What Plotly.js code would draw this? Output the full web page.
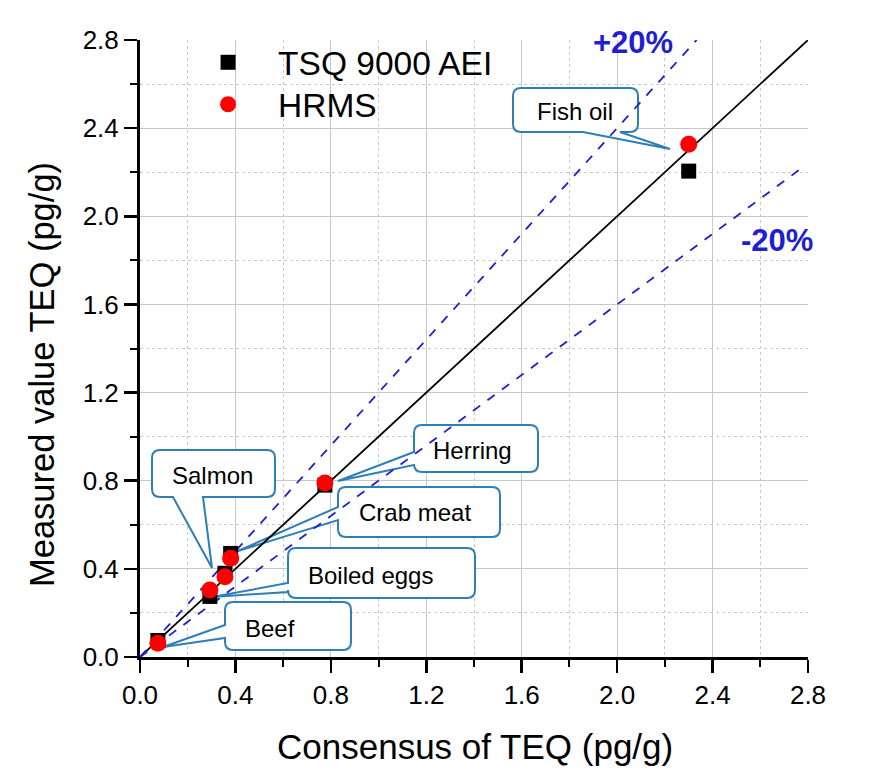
<!DOCTYPE html>
<html>
<head>
<meta charset="utf-8">
<script src="https://cdn.plot.ly/plotly-3.0.1.min.js"></script>
<style>html,body{margin:0;padding:0;background:#fff;}#chart{width:871px;height:780px;}</style>
</head>
<body>
<div id="chart"></div>
<script>
// ---- data ----
var samples   = ["Beef", "Salmon", "Boiled eggs", "Crab meat", "Herring", "Fish oil"];
var consensus = [0.075, 0.293, 0.356, 0.38, 0.775, 2.30];
var tsq       = [0.075, 0.275, 0.38, 0.47, 0.78, 2.205];
var hrms      = [0.062, 0.304, 0.364, 0.448, 0.79, 2.327];
var seriesNames = ["TSQ 9000 AEI", "HRMS"];
var unityX = [0, 2.8],   unityY = [0, 2.8];
var plus20X = [0, 2.333], plus20Y = [0, 2.8];
var minus20X = [0, 2.78], minus20Y = [0, 2.224];
var tickVals = [0, 0.4, 0.8, 1.2, 1.6, 2.0, 2.4, 2.8];

// ---- layout geometry (pixels) ----
var W = 871, H = 780, ML = 140, MR = 63, MT = 40, MB = 123;
var PW = W - ML - MR, PH = H - MT - MB;
function px2x(px){ return (px - ML) / PW * 2.8; }
function py2y(py){ return (MT + PH - py) / PH * 2.8; }
function pxp(px){ return (px - ML) / PW; }
function pyp(py){ return (MT + PH - py) / PH; }

// callout boxes: box [x0,y0,x1,y1] px, tail side, attach coords, tip px, text centre
var callouts = [
  {t:"Fish oil",    box:[513,88,638,132],  side:"bottom", a:583, b:620, tip:[670,149], c:[575,111]},
  {t:"Herring",     box:[414,425,538,472], side:"left",   a:452, b:465, tip:[338,481], c:[472,450]},
  {t:"Crab meat",   box:[338,487,500,537], side:"left",   a:507, b:520, tip:[238,551], c:[415,512]},
  {t:"Boiled eggs", box:[288,548,475,598], side:"left",   a:583, b:592, tip:[212,597], c:[370,575]},
  {t:"Salmon",      box:[152,450,275,497], side:"bottom", a:173, b:203, tip:[212,568], c:[212,475]},
  {t:"Beef",        box:[225,602,351,650], side:"left",   a:625, b:638, tip:[163,647], c:[270,628]}
];

function P(px,py){ return px2x(px).toFixed(5) + "," + py2y(py).toFixed(5); }
function calloutPath(o){
  var x0=o.box[0], y0=o.box[1], x1=o.box[2], y1=o.box[3], r=8;
  var s = "M" + P(x0+r,y0) + " L" + P(x1-r,y0) + " Q" + P(x1,y0) + " " + P(x1,y0+r) +
          " L" + P(x1,y1-r) + " Q" + P(x1,y1) + " " + P(x1-r,y1);
  if (o.side === "bottom") s += " L" + P(o.b,y1) + " L" + P(o.tip[0],o.tip[1]) + " L" + P(o.a,y1);
  s += " L" + P(x0+r,y1) + " Q" + P(x0,y1) + " " + P(x0,y1-r);
  if (o.side === "left") s += " L" + P(x0,o.b) + " L" + P(o.tip[0],o.tip[1]) + " L" + P(x0,o.a);
  s += " L" + P(x0,y0+r) + " Q" + P(x0,y0) + " " + P(x0+r,y0) + " Z";
  return s;
}

var FONT = "Liberation Sans, Arial, sans-serif";
var BLUE = "#1f1fcf";
var shapes = callouts.map(function(o){
  return {type:"path", xref:"x", yref:"y", path:calloutPath(o), layer:"between",
          fillcolor:"#ffffff", line:{color:"#2e7fb5", width:2}};
});
var annotations = callouts.map(function(o){
  return {xref:"x", yref:"y", x:px2x(o.c[0]), y:py2y(o.c[1]), text:o.t, showarrow:false,
          xanchor:"center", yanchor:"middle", font:{family:FONT, size:24, color:"#000"}};
});
annotations.push({xref:"x", yref:"y", x:px2x(633), y:py2y(42), text:"<b>+20%</b>", showarrow:false,
  xanchor:"center", yanchor:"middle", font:{family:FONT, size:31, color:BLUE}});
annotations.push({xref:"x", yref:"y", x:px2x(777), y:py2y(240), text:"<b>-20%</b>", showarrow:false,
  xanchor:"center", yanchor:"middle", font:{family:FONT, size:31, color:BLUE}});
annotations.push({xref:"paper", yref:"paper", x:pxp(475), y:pyp(746), text:"Consensus of TEQ (pg/g)",
  showarrow:false, xanchor:"center", yanchor:"middle", font:{family:FONT, size:35, color:"#000"}});
annotations.push({xref:"paper", yref:"paper", x:pxp(42), y:pyp(375), text:"Measured value TEQ (pg/g)",
  showarrow:false, textangle:-90, xanchor:"center", yanchor:"middle", font:{family:FONT, size:34.5, color:"#000"}});

var traces = [
  {x:unityX, y:unityY, mode:"lines", line:{color:"#000", width:1.8}, showlegend:false, hoverinfo:"skip"},
  {x:plus20X, y:plus20Y, mode:"lines", line:{color:BLUE, width:1.8, dash:"dash"}, showlegend:false, hoverinfo:"skip"},
  {x:minus20X, y:minus20Y, mode:"lines", line:{color:BLUE, width:1.8, dash:"dash"}, showlegend:false, hoverinfo:"skip"},
  {x:consensus, y:tsq, text:samples, name:seriesNames[0], mode:"markers", type:"scatter", legend:"legend",
   marker:{symbol:"square", size:15, color:"#000"}},
  {x:consensus, y:hrms, text:samples, name:seriesNames[1], mode:"markers", type:"scatter", legend:"legend2",
   marker:{symbol:"circle", size:17, color:"#ff0000"}}
];

function axis(){
  return {range:[0,2.8], tickvals:tickVals, tickformat:".1f", ticks:"outside", ticklen:13, tickwidth:2.5,
    tickcolor:"#000", showline:true, linecolor:"#000", linewidth:3, zeroline:false,
    showgrid:true, gridcolor:"#c8c8c8", gridwidth:1,
    tickfont:{family:FONT, size:26, color:"#000"},
    minor:{dtick:0.2, tick0:0, ticks:"outside", ticklen:7, tickwidth:2, tickcolor:"#000",
           showgrid:true, gridcolor:"#c8c8c8", gridwidth:1, griddash:"dot"},
    fixedrange:true};
}
function legendAt(topPx){
  return {x:0.057, y:pyp(topPx), xanchor:"left", yanchor:"top", bgcolor:"rgba(0,0,0,0)", borderwidth:0,
          itemwidth:90, font:{family:FONT, size:33.5, color:"#000"}, tracegroupgap:0};
}

var layout = {
  width:W, height:H, margin:{l:ML, r:MR, t:MT, b:MB, pad:0},
  paper_bgcolor:"#fff", plot_bgcolor:"#fff",
  xaxis:axis(), yaxis:axis(),
  showlegend:true,
  legend:legendAt(34), legend2:legendAt(76),
  shapes:shapes, annotations:annotations
};

Plotly.newPlot("chart", traces, layout, {displayModeBar:false, staticPlot:true});
</script>
</body>
</html>
